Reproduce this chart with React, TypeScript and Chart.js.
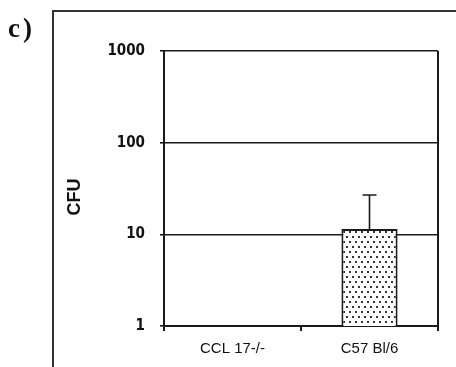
import React, { useEffect, useRef } from "react";
import { Chart, registerables } from "chart.js";

Chart.register(...registerables);

// CFU counts per mouse strain (log scale)
const categories = ["CCL 17-/-", "C57 Bl/6"];
const cfuMean: (number | null)[] = [null, 11.4];
const cfuUpper: (number | null)[] = [null, 26.9];
const yTickValues = [1, 10, 100, 1000];
const panelLabel = "c)";
const yTitle = "CFU";

const INK = "#1a1a1a";

function makeStipple(): CanvasPattern | string {
  const tile = document.createElement("canvas");
  tile.width = 6;
  tile.height = 10;
  const c = tile.getContext("2d");
  if (!c) return "#ddd";
  c.fillStyle = "#ffffff";
  c.fillRect(0, 0, 6, 10);
  c.fillStyle = "#333333";
  c.fillRect(1, 1, 2, 2);
  c.fillRect(4, 6, 2, 2);
  const p = c.createPattern(tile, "repeat");
  return p || "#ddd";
}

const decorations = {
  id: "decorations",
  beforeDraw(chart: any) {
    const ctx = chart.ctx as CanvasRenderingContext2D;
    ctx.save();
    ctx.fillStyle = "#ffffff";
    ctx.fillRect(0, 0, chart.width, chart.height);
    // outer panel frame
    ctx.strokeStyle = "#333333";
    ctx.lineWidth = 2;
    ctx.beginPath();
    ctx.moveTo(53, chart.height + 2);
    ctx.lineTo(53, 11);
    ctx.lineTo(chart.width + 2, 11);
    ctx.stroke();
    // panel letter
    ctx.fillStyle = "#111";
    ctx.font = "bold 27px 'Liberation Serif', serif";
    (ctx as any).letterSpacing = "3px";
    ctx.textBaseline = "alphabetic";
    ctx.textAlign = "left";
    ctx.fillText(panelLabel, 8, 37);
    (ctx as any).letterSpacing = "0px";
    // y axis title
    ctx.translate(75, 197);
    ctx.rotate(-Math.PI / 2);
    ctx.textAlign = "center";
    ctx.textBaseline = "middle";
    ctx.font = "bold 18px 'Liberation Sans', Arial, sans-serif";
    ctx.fillText(yTitle, 0, 0);
    ctx.restore();
  },
  afterDatasetsDraw(chart: any) {
    const ctx = chart.ctx as CanvasRenderingContext2D;
    const meta = chart.getDatasetMeta(0);
    const y = chart.scales.y;
    ctx.save();
    ctx.strokeStyle = INK;
    ctx.lineWidth = 1.6;
    meta.data.forEach((bar: any, i: number) => {
      const m = cfuMean[i];
      const u = cfuUpper[i];
      if (m == null || u == null) return;
      const x = bar.x;
      const yTop = y.getPixelForValue(m);
      const yUp = y.getPixelForValue(u);
      ctx.beginPath();
      ctx.moveTo(x, yTop);
      ctx.lineTo(x, yUp);
      ctx.moveTo(x - 7, yUp);
      ctx.lineTo(x + 7, yUp);
      ctx.stroke();
    });
    ctx.restore();
  },
  afterDraw(chart: any) {
    const ctx = chart.ctx as CanvasRenderingContext2D;
    const a = chart.chartArea;
    ctx.save();
    ctx.strokeStyle = INK;
    ctx.lineWidth = 2;
    ctx.beginPath();
    ctx.moveTo(a.right, a.top);
    ctx.lineTo(a.right, a.bottom + 5);
    ctx.stroke();
    ctx.restore();
  },
};

export default function App() {
  const canvasRef = useRef<HTMLCanvasElement | null>(null);

  useEffect(() => {
    if (!canvasRef.current) return;
    const stipple = makeStipple();
    const chart = new Chart(canvasRef.current, {
      type: "bar",
      data: {
        labels: categories,
        datasets: [
          {
            data: cfuMean as any,
            backgroundColor: stipple as any,
            borderColor: INK,
            borderWidth: 2,
            categoryPercentage: 1,
            barPercentage: 0.41,
          },
        ],
      },
      options: {
        responsive: false,
        animation: false,
        devicePixelRatio: 1,
        layout: { padding: { left: 0, top: 51, right: 18, bottom: 0 } },
        plugins: {
          legend: { display: false },
          tooltip: { enabled: false },
        },
        scales: {
          x: {
            type: "category",
            grid: {
              display: true,
              drawOnChartArea: false,
              drawTicks: true,
              tickLength: 5,
              color: INK,
              lineWidth: 2,
              offset: true,
            },
            border: { display: true, color: INK, width: 2 },
            ticks: {
              color: "#111",
              padding: 9,
              font: { family: "'Liberation Sans', Arial, sans-serif", size: 15 },
            },
            afterFit(scale: any) {
              scale.height = 41;
            },
          },
          y: {
            type: "logarithmic",
            min: 1,
            max: 1000,
            afterBuildTicks(scale: any) {
              scale.ticks = yTickValues.map((v) => ({ value: v }));
            },
            grid: {
              color: INK,
              lineWidth: 1.6,
              drawTicks: true,
              tickLength: 4,
            },
            border: { display: true, color: INK, width: 2 },
            ticks: {
              color: "#111",
              padding: 15,
              font: {
                family: "'Liberation Sans Narrow', 'DejaVu Sans Condensed', Arial, sans-serif",
                size: 15,
                weight: "bold",
              },
              callback: (v: any) => String(v),
            },
            afterFit(scale: any) {
              scale.width = 164;
            },
          },
        },
      },
      plugins: [decorations],
    });
    return () => chart.destroy();
  }, []);

  return (
    <div style={{ position: "absolute", left: 0, top: 0, width: 456, height: 367, background: "#fff" }}>
      <canvas ref={canvasRef} width={456} height={367} />
    </div>
  );
}
